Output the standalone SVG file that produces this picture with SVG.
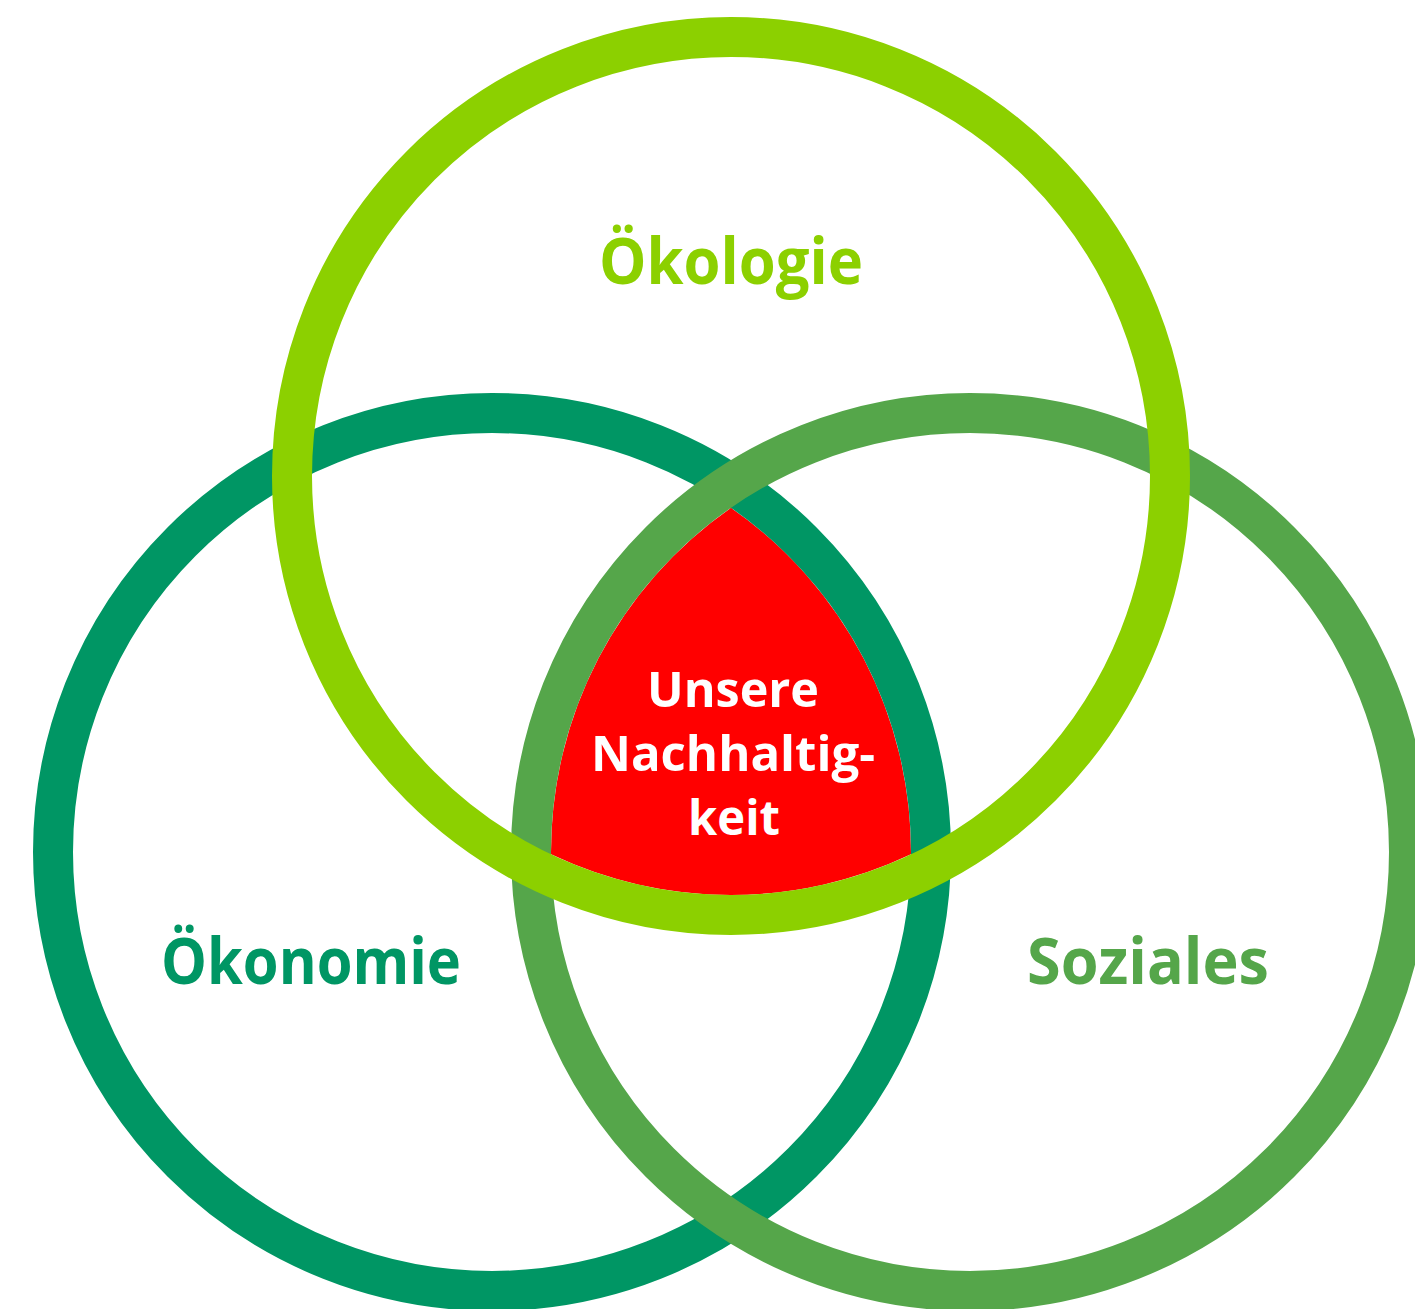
<svg xmlns="http://www.w3.org/2000/svg" width="1415" height="1309" viewBox="0 0 1415 1309">
<style>
.ring{fill:none;stroke-width:40}
.lbl{font-family:"Open Sans","Noto Sans","Liberation Sans",sans-serif;font-weight:bold;text-anchor:middle}
</style>
<rect width="1415" height="1309" fill="#ffffff"/>
<g id="kern">
<path d="M731 507.85 A419 419 0 0 0 551.02 854.35 A419 419 0 0 0 910.98 854.35 A419 419 0 0 0 731 507.85 Z" fill="#ff0000"/>
</g>
<g id="oekonomie">
<circle class="ring" cx="492" cy="852" r="439" stroke="#009664"/>
</g>
<g id="soziales">
<circle class="ring" cx="970" cy="852" r="439" stroke="#55a64a"/>
</g>
<g id="oekologie">
<circle class="ring" cx="731" cy="476" r="439" stroke="#8cd000"/>
</g>
<g id="labels">
<text class="lbl" x="731" y="284" font-size="64" fill="#8cd000" textLength="264" lengthAdjust="spacingAndGlyphs">Ökologie</text>
<text class="lbl" x="311" y="984" font-size="64" fill="#009664" textLength="300" lengthAdjust="spacingAndGlyphs">Ökonomie</text>
<text class="lbl" x="1148" y="984" font-size="64" fill="#55a64a" textLength="242" lengthAdjust="spacingAndGlyphs">Soziales</text>
<text class="lbl" x="733" y="707" font-size="48" fill="#ffffff" textLength="172" lengthAdjust="spacingAndGlyphs">Unsere</text>
<text class="lbl" x="733" y="771" font-size="48" fill="#ffffff" textLength="284" lengthAdjust="spacingAndGlyphs">Nachhaltig-</text>
<text class="lbl" x="734" y="835" font-size="48" fill="#ffffff" textLength="92" lengthAdjust="spacingAndGlyphs">keit</text>
</g>
</svg>
